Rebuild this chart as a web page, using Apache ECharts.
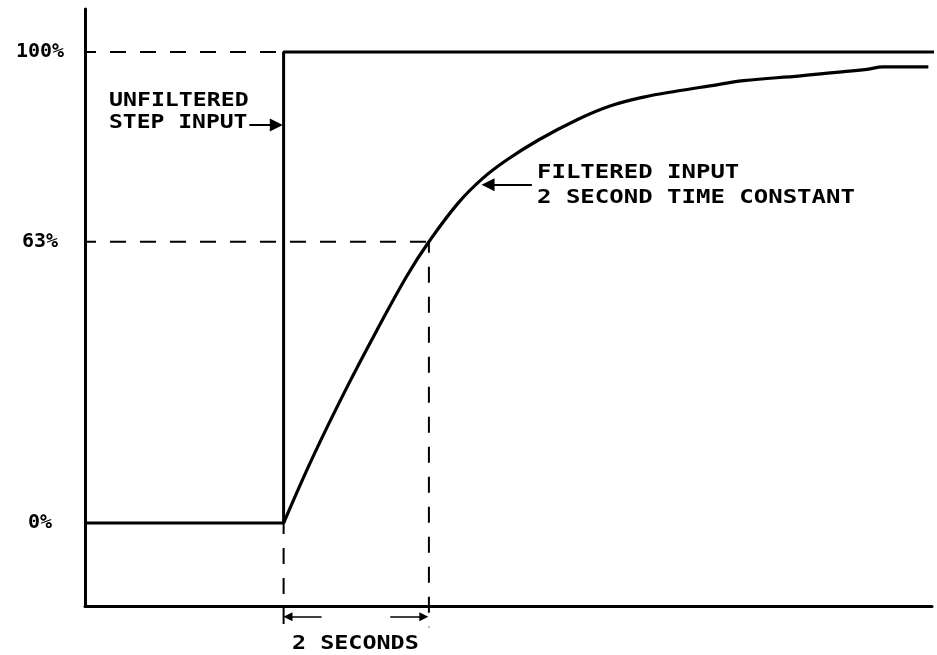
<!DOCTYPE html>
<html><head><meta charset="utf-8">
<script src="https://cdn.jsdelivr.net/npm/echarts@6/dist/echarts.min.js"></script>
<style>html,body{margin:0;padding:0;background:#fff}#c{width:937px;height:655px}</style>
</head><body><div id="c"></div>
<script>
// ---- data (time in seconds after the step, level in % of step) ----
const stepTime = [-2.72, 0, 0, 8.95];
const stepPct = [0, 0, 100, 100];
const filtTime = [0, 0.40, 0.87, 1.28, 1.69, 1.99, 2.39, 2.73, 3.06, 3.49, 4.02, 4.47, 4.93, 5.39, 5.84, 6.30, 7.08, 7.53, 7.99, 8.21, 8.83];
const filtPct = [0, 14.0, 28.9, 41.0, 52.5, 59.7, 67.9, 73.2, 77.1, 81.3, 85.6, 88.5, 90.4, 91.7, 92.8, 93.9, 94.9, 95.6, 96.3, 96.8, 96.8];
const yTickValues = [0, 59.7, 100];
const yTickLabels = ['0%', '63%', '100%'];
const tauTime = 1.99;      // the 2-second time constant mark
const tauPct = 59.7;       // curve level at the time constant
const xMin = -2.72, xMax = 8.88, yMin = -17.6, yMax = 109.1;
const dimBottom = -22.1;   // lower end of the dimension extension lines
const dimLevel = -19.9;    // level of the "2 SECONDS" dimension arrows

const zip = (a, b) => a.map((v, i) => [v, b[i]]);
const FONT = 'bold 20px "DejaVu Sans Mono", monospace';
const dashStyle = { color: '#000', width: 2, type: [16, 14], dashOffset: 5 };

function dashSeries(points) {
  return { type: 'line', data: points, symbol: 'none', clip: false, silent: true,
    lineStyle: dashStyle, z: 1 };
}
function txt(x, y, text, sx) {
  return { type: 'text', x: x, y: y, scaleX: sx, silent: true,
    style: { text: text, font: FONT, fill: '#000', align: 'left', verticalAlign: 'middle',
      textAlign: 'left', textVerticalAlign: 'middle' } };
}

const chart = echarts.init(document.getElementById('c'), null, { renderer: 'canvas' });
chart.setOption({
  animation: false,
  backgroundColor: '#fff',
  grid: { left: 85, right: 5, top: 9, bottom: 49, containLabel: false },
  xAxis: { type: 'value', min: xMin, max: xMax,
    axisLine: { show: true, onZero: false, lineStyle: { color: '#000', width: 3 } },
    axisTick: { show: false }, axisLabel: { show: false }, splitLine: { show: false } },
  yAxis: { type: 'value', min: yMin, max: yMax,
    axisLine: { show: true, onZero: false, lineStyle: { color: '#000', width: 3 } },
    axisTick: { show: false }, splitLine: { show: false },
    axisLabel: { customValues: yTickValues, align: 'center', margin: 45,
      color: '#000', fontFamily: '"DejaVu Sans Mono", monospace', fontWeight: 'bold', fontSize: 20,
      formatter: function (v) {
        let best = 0;
        yTickValues.forEach((t, i) => { if (Math.abs(t - v) < Math.abs(yTickValues[best] - v)) best = i; });
        return yTickLabels[best];
      } } },
  series: [
    dashSeries([[xMin, 100], [0, 100]]),
    dashSeries([[xMin, tauPct], [tauTime, tauPct]]),
    dashSeries([[0, 0], [0, dimBottom]]),
    dashSeries([[tauTime, tauPct], [tauTime, dimBottom]]),
    { name: 'Unfiltered step input', type: 'line', data: zip(stepTime, stepPct), symbol: 'none',
      clip: false, silent: true, lineStyle: { color: '#000', width: 3 }, z: 3 },
    { name: 'Filtered input', type: 'line', data: zip(filtTime, filtPct), symbol: 'none',
      smooth: 0.4, silent: true, lineStyle: { color: '#000', width: 3.2 }, z: 3 },
    { type: 'lines', coordinateSystem: 'cartesian2d', clip: false, silent: true, z: 4,
      symbol: ['none', 'triangle'], symbolSize: [1, 13],
      lineStyle: { color: '#000', width: 2, opacity: 1 }, itemStyle: { color: '#000' },
      data: [
        { coords: [[-0.47, 84.5], [-0.1, 84.5]] },
        { coords: [[3.40, 71.8], [2.80, 71.8]] }
      ] },
    { type: 'lines', coordinateSystem: 'cartesian2d', clip: false, silent: true, z: 4,
      symbol: ['none', 'triangle'], symbolSize: [1, 9],
      lineStyle: { color: '#000', width: 1.5, opacity: 1 }, itemStyle: { color: '#000' },
      data: [
        { coords: [[0.52, dimLevel], [0.06, dimLevel]] },
        { coords: [[1.46, dimLevel], [1.92, dimLevel]] }
      ] }
  ],
  graphic: [
    txt(109, 101, 'UNFILTERED', 1.16),
    txt(109, 123, 'STEP INPUT', 1.15),
    txt(537, 173, 'FILTERED INPUT', 1.2),
    txt(537, 198, '2 SECOND TIME CONSTANT', 1.2),
    txt(292, 644, '2 SECONDS', 1.17)
  ]
});
</script></body></html>
